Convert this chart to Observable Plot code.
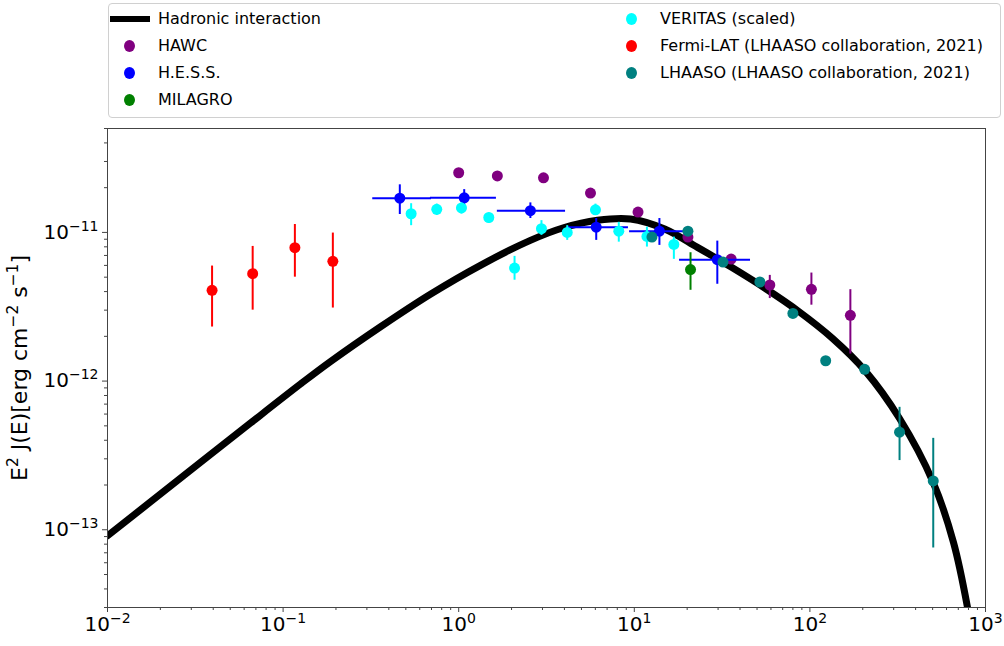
<!DOCTYPE html>
<html>
<head>
<meta charset="utf-8">
<script src="https://cdn.jsdelivr.net/npm/d3@7"></script>
<script src="https://cdn.jsdelivr.net/npm/@observablehq/plot@0.6"></script>
<style>
  html, body { margin: 0; padding: 0; background: white; }
  body { width: 1004px; height: 646px; overflow: hidden; font-family: "DejaVu Sans", sans-serif; }
  #legend { position: relative; width: 1004px; height: 122px; }
  #legend .box { position: absolute; left: 108px; top: 3px; width: 893px; height: 115px;
    border: 1px solid #d0d0d0; border-radius: 4px; box-sizing: border-box; }
  #legend .item { position: absolute; height: 20px; line-height: 20px; font-size: 16px; color: #000; white-space: nowrap; }
  #legend .dot { position: absolute; width: 11px; height: 12px; border-radius: 50%; }
  #legend .line { position: absolute; width: 40px; height: 6px; background: #000; }
</style>
</head>
<body>
<div id="legend"><div class="box"></div></div>
<div id="chart"></div>
<script>
// ---- Data (energies in TeV, E^2 J(E) in erg cm^-2 s^-1) ----
const modelE = [0.01, 0.0176, 0.0339, 0.0652, 0.1256, 0.186, 0.359, 0.690, 1.33, 2.56, 3.95, 6.17, 9.51, 14.9, 22.9, 35.8, 55.5, 86.1, 134, 207, 324, 502, 658, 800];
const modelF = [9.12e-14, 1.542e-13, 2.84e-13, 5.22e-13, 9.55e-13, 1.352e-12, 2.32e-12, 3.84e-12, 6.01e-12, 8.84e-12, 1.075e-11, 1.208e-11, 1.232e-11, 1.054e-11, 7.93e-12, 5.82e-12, 4.21e-12, 2.95e-12, 1.945e-12, 1.167e-12, 5.60e-13, 2.10e-13, 8.18e-14, 2.77e-14];

const hawcE  = [1.00, 1.66, 3.04, 5.63, 10.5, 20.2, 35.6, 59.1, 102, 170];
const hawcF  = [2.52e-11, 2.40e-11, 2.33e-11, 1.84e-11, 1.37e-11, 9.3e-12, 6.62e-12, 4.43e-12, 4.14e-12, 2.77e-12];
const hawcLo = [2.42e-11, 2.30e-11, 2.23e-11, 1.76e-11, 1.30e-11, 8.8e-12, 6.2e-12, 3.59e-12, 3.24e-12, 1.52e-12];
const hawcHi = [2.62e-11, 2.50e-11, 2.43e-11, 1.92e-11, 1.44e-11, 9.8e-12, 7.05e-12, 5.14e-12, 5.33e-12, 4.12e-12];

const hessE   = [0.462, 1.075, 2.56, 6.07, 13.9, 29.7];
const hessElo = [0.324, 0.690, 1.66, 4.22, 9.4, 18.1];
const hessEhi = [0.700, 1.64, 4.06, 9.26, 19.1, 45.9];
const hessF   = [1.70e-11, 1.71e-11, 1.40e-11, 1.085e-11, 1.02e-11, 6.56e-12];
const hessLo  = [1.32e-11, 1.52e-11, 1.24e-11, 8.84e-12, 8.18e-12, 4.48e-12];
const hessHi  = [2.09e-11, 1.94e-11, 1.58e-11, 1.24e-11, 1.24e-11, 8.74e-12];

const milagroE  = [20.9];
const milagroF  = [5.62e-12];
const milagroLo = [4.08e-12];
const milagroHi = [7.3e-12];

const veritasE  = [0.536, 0.750, 1.037, 1.484, 2.08, 2.96, 4.15, 6.01, 8.16, 11.8, 16.8];
const veritasF  = [1.335e-11, 1.43e-11, 1.46e-11, 1.26e-11, 5.76e-12, 1.06e-11, 1.0e-11, 1.42e-11, 1.02e-11, 9.4e-12, 8.3e-12];
const veritasLo = [1.11e-11, 1.30e-11, 1.33e-11, 1.15e-11, 4.77e-12, 9.55e-12, 8.84e-12, 1.30e-11, 8.6e-12, 7.97e-12, 6.59e-12];
const veritasHi = [1.56e-11, 1.55e-11, 1.58e-11, 1.35e-11, 6.9e-12, 1.2e-11, 1.11e-11, 1.55e-11, 1.17e-11, 1.085e-11, 9.3e-12];

const fermiE  = [0.0394, 0.0671, 0.1167, 0.192];
const fermiF  = [4.08e-12, 5.28e-12, 7.9e-12, 6.39e-12];
const fermiLo = [2.31e-12, 3.0e-12, 5.0e-12, 3.1e-12];
const fermiHi = [5.94e-12, 8.05e-12, 1.13e-11, 9.9e-12];

const lhaasoE  = [12.6, 20.2, 32.0, 51.9, 80.0, 123, 205, 324, 504];
const lhaasoF  = [9.3e-12, 1.02e-11, 6.32e-12, 4.64e-12, 2.85e-12, 1.37e-12, 1.2e-12, 4.53e-13, 2.13e-13];
const lhaasoLo = [8.9e-12, 9.8e-12, 6.05e-12, 4.45e-12, 2.73e-12, 1.31e-12, 1.15e-12, 2.92e-13, 7.54e-14];
const lhaasoHi = [9.7e-12, 1.06e-11, 6.6e-12, 4.83e-12, 2.97e-12, 1.43e-12, 1.25e-12, 6.66e-13, 4.12e-13];

const xMajor = [1e-2, 1e-1, 1e0, 1e1, 1e2, 1e3];
const yMajor = [1e-13, 1e-12, 1e-11];
const mantissas = [2, 3, 4, 5, 6, 7, 8, 9];

const legendItems = [
  {label: "Hadronic interaction", kind: "line", color: "#000000", col: 0, row: 0},
  {label: "HAWC", kind: "dot", color: "#800080", col: 0, row: 1},
  {label: "H.E.S.S.", kind: "dot", color: "#0000ff", col: 0, row: 2},
  {label: "MILAGRO", kind: "dot", color: "#008000", col: 0, row: 3},
  {label: "VERITAS (scaled)", kind: "dot", color: "#00ffff", col: 1, row: 0},
  {label: "Fermi-LAT (LHAASO collaboration, 2021)", kind: "dot", color: "#ff0000", col: 1, row: 1},
  {label: "LHAASO (LHAASO collaboration, 2021)", kind: "dot", color: "#008080", col: 1, row: 2}
];

// ---- Build tables ----
const rows = (E, F, lo, hi) => E.map((e, i) => ({E: e, F: F[i], lo: lo[i], hi: hi[i]}));
const model = modelE.map((e, i) => ({E: e, F: modelF[i]}));
const hawc = rows(hawcE, hawcF, hawcLo, hawcHi);
const hess = hessE.map((e, i) => ({E: e, F: hessF[i], lo: hessLo[i], hi: hessHi[i], Elo: hessElo[i], Ehi: hessEhi[i]}));
const milagro = rows(milagroE, milagroF, milagroLo, milagroHi);
const veritas = rows(veritasE, veritasF, veritasLo, veritasHi);
const fermi = rows(fermiE, fermiF, fermiLo, fermiHi);
const lhaaso = rows(lhaasoE, lhaasoF, lhaasoLo, lhaasoHi);

const xDomain = [1e-2, 1e3];
const yDomain = [3e-14, 5e-11];
const xMinor = [];
for (let k = -2; k < 3; k++) for (const m of mantissas) xMinor.push(m * Math.pow(10, k));
const yMinor = [];
for (let k = -14; k < -10; k++) for (const m of mantissas) {
  const v = m * Math.pow(10, k);
  if (v >= yDomain[0] * 0.999 && v <= yDomain[1] * 1.001) yMinor.push(v);
}

const expOf = v => String(Math.round(Math.log10(v))).replace("-", "\u2212");
const pow10 = v => "10^" + expOf(v);

const series = [
  {data: hawc, color: "#800080"},
  {data: hess, color: "#0000ff", xerr: true},
  {data: milagro, color: "#008000"},
  {data: veritas, color: "#00ffff"},
  {data: fermi, color: "#ff0000"},
  {data: lhaaso, color: "#008080"}
];

const marks = [
  Plot.line(model, {x: "E", y: "F", stroke: "#000", strokeWidth: 7, curve: "catmull-rom", clip: true})
];
for (const s of series) {
  marks.push(Plot.ruleX(s.data, {x: "E", y1: "lo", y2: "hi", stroke: s.color, strokeWidth: 2, clip: true}));
  if (s.xerr) marks.push(Plot.ruleY(s.data, {y: "F", x1: "Elo", x2: "Ehi", stroke: s.color, strokeWidth: 2, clip: true}));
  marks.push(Plot.dot(s.data, {x: "E", y: "F", r: 5.5, fill: s.color, stroke: "none"}));
}
const yLabel = "E^2 J(E)[erg cm^\u22122 s^\u22121]";
marks.push(
  Plot.axisX({ticks: xMinor, tickSize: 3, tickFormat: () => "", stroke: "#444"}),
  Plot.axisX({ticks: xMajor, tickSize: 5, tickPadding: 4, tickFormat: pow10, fontSize: 20, stroke: "#444", fill: "#000", label: null}),
  Plot.axisY({ticks: yMinor, tickSize: 3, tickFormat: () => "", stroke: "#444", label: null}),
  Plot.axisY({ticks: yMajor, tickSize: 5, tickPadding: 4, tickFormat: pow10, fontSize: 20, stroke: "#444", fill: "#000",
    label: yLabel, labelAnchor: "center", labelArrow: "none", labelOffset: 96}),
  Plot.frame({stroke: "#444", strokeWidth: 1})
);

const chart = Plot.plot({
  width: 1004,
  height: 524,
  marginTop: 6,
  marginBottom: 39,
  marginLeft: 107,
  marginRight: 19,
  style: {fontFamily: "DejaVu Sans, sans-serif", fontSize: "20px", background: "white", color: "#000"},
  x: {type: "log", domain: xDomain},
  y: {type: "log", domain: yDomain},
  marks
});
document.getElementById("chart").appendChild(chart);

// ---- Render "^x" as real superscript tspans (mathtext-like) ----
const SVGNS = "http://www.w3.org/2000/svg";
function supify(el, shift) {
  const s = el.textContent;
  if (!s.includes("^")) return;
  el.textContent = "";
  const re = /\^([^\s\]]+)/g;
  let last = 0, m, pendingReturn = false;
  const add = (txt, sup) => {
    const t = document.createElementNS(SVGNS, "tspan");
    t.textContent = txt;
    if (sup) { t.setAttribute("font-size", "0.7em"); t.setAttribute("dy", String(-shift)); }
    else if (pendingReturn) { t.setAttribute("dy", String(shift)); pendingReturn = false; }
    el.appendChild(t);
    if (sup) pendingReturn = true;
  };
  while ((m = re.exec(s))) {
    const normal = s.slice(last, m.index);
    if (normal) add(normal, false);
    add(m[1], true);
    last = m.index + m[0].length;
  }
  const rest = s.slice(last);
  if (rest) add(rest, false);
}
const yLabelText = chart.querySelector('g[aria-label="y-axis label"] text');
if (yLabelText) yLabelText.setAttribute("font-size", "22px");
chart.querySelectorAll("text").forEach(el => supify(el, el === yLabelText ? 9 : 8));

// ---- Legend ----
const legend = document.getElementById("legend");
const rowY = [19, 46, 73, 100];
const colMarkerX = [129, 631];
const colTextX = [158, 660];
for (const it of legendItems) {
  const cy = rowY[it.row];
  if (it.kind === "line") {
    const l = document.createElement("div");
    l.className = "line";
    l.style.left = (colMarkerX[it.col] - 19) + "px";
    l.style.top = (cy - 3) + "px";
    l.style.background = it.color;
    legend.appendChild(l);
  } else {
    const d = document.createElement("div");
    d.className = "dot";
    d.style.left = (colMarkerX[it.col] - 5.5) + "px";
    d.style.top = (cy - 6) + "px";
    d.style.background = it.color;
    legend.appendChild(d);
  }
  const t = document.createElement("div");
  t.className = "item";
  t.textContent = it.label;
  t.style.left = colTextX[it.col] + "px";
  t.style.top = (cy - 10) + "px";
  legend.appendChild(t);
}
</script>
</body>
</html>
